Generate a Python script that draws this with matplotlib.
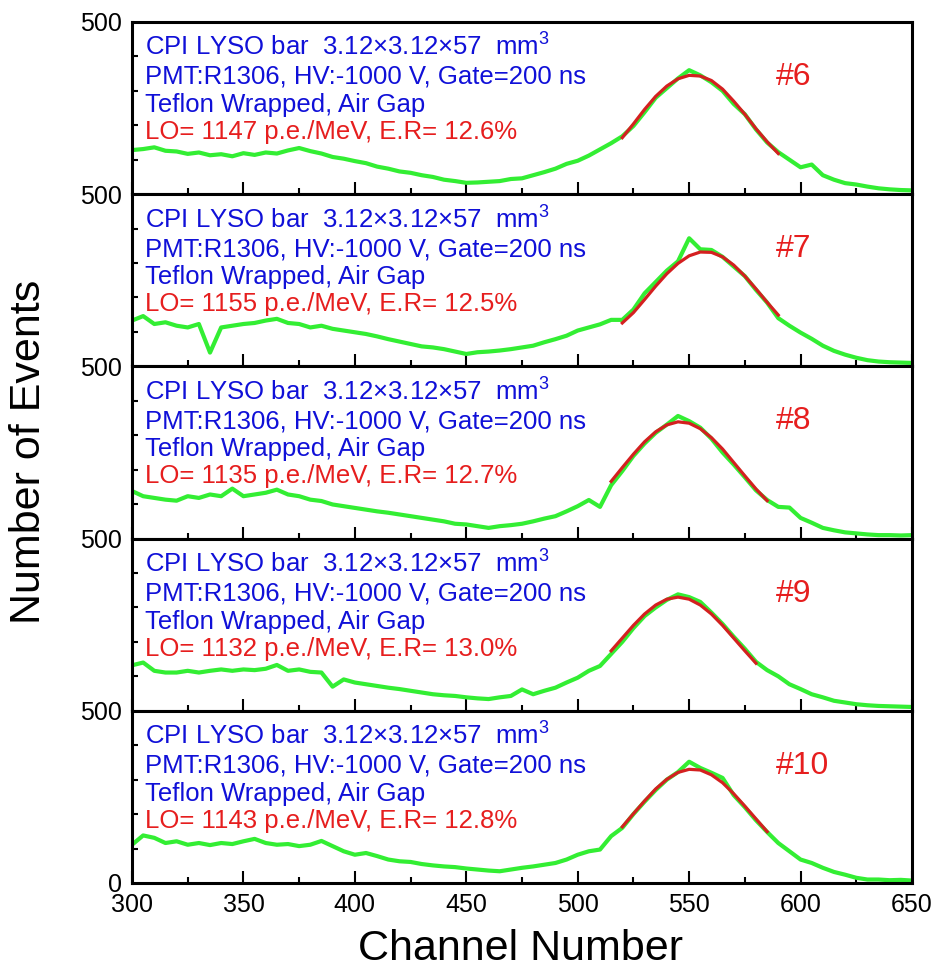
import numpy as np
import matplotlib.pyplot as plt
from matplotlib.ticker import MultipleLocator

# fonts: Arial-like, mathtext only for the mm^3 superscript
plt.rcParams['font.family'] = 'Liberation Sans'
plt.rcParams['mathtext.fontset'] = 'custom'
plt.rcParams['mathtext.rm'] = 'Liberation Sans'
plt.rcParams['mathtext.it'] = 'Liberation Sans:italic'
plt.rcParams['mathtext.bf'] = 'Liberation Sans:bold'

# channel grid of the spectra (read every 5 channels)
channels = np.arange(300, 651, 5)

counts_6 = [128, 131, 136, 126, 124, 117, 121, 113, 116, 110,
            119, 114, 121, 118, 127, 134, 125, 118, 108, 103,
            96, 90, 80, 74, 66, 62, 55, 50, 42, 38,
            33, 34, 36, 38, 44, 46, 55, 64, 74, 88,
            97, 112, 130, 148, 168, 198, 238, 280, 308, 336,
            360, 345, 325, 300, 262, 232, 188, 150, 122, 100,
            78, 86, 55, 42, 32, 28, 22, 17, 14, 12,
            11]
counts_7 = [133, 146, 123, 128, 118, 113, 123, 40, 113, 118,
            123, 126, 133, 138, 126, 123, 113, 118, 109, 104,
            99, 94, 87, 79, 72, 65, 58, 55, 50, 43,
            36, 41, 43, 46, 50, 55, 60, 70, 79, 89,
            104, 113, 122, 135, 135, 165, 212, 245, 278, 305,
            372, 340, 338, 318, 290, 262, 222, 185, 140, 118,
            98, 80, 60, 45, 34, 25, 18, 14, 12, 11,
            10]
counts_8 = [138, 123, 118, 113, 110, 123, 118, 128, 123, 145,
            123, 128, 133, 142, 128, 123, 113, 109, 99, 94,
            89, 84, 79, 75, 70, 65, 60, 55, 50, 43,
            41, 36, 31, 36, 39, 43, 50, 58, 65, 79,
            94, 112, 92, 155, 196, 240, 276, 307, 331, 356,
            341, 322, 290, 250, 215, 178, 140, 112, 92, 90,
            60, 46, 31, 24, 18, 15, 12, 10, 10, 9,
            10]
counts_9 = [132, 140, 116, 111, 111, 116, 111, 116, 120, 116,
            120, 118, 122, 133, 116, 120, 113, 111, 70, 91,
            82, 77, 72, 67, 63, 58, 53, 48, 45, 43,
            39, 36, 34, 39, 43, 62, 48, 58, 67, 82,
            96, 116, 130, 165, 200, 240, 275, 300, 322, 338,
            330, 316, 285, 252, 215, 180, 142, 118, 100, 77,
            63, 48, 39, 29, 24, 19, 16, 14, 13, 12,
            11]
counts_10 = [111, 138, 131, 116, 121, 111, 116, 110, 116, 113,
             121, 128, 116, 111, 113, 107, 111, 122, 107, 92,
             82, 87, 78, 68, 63, 61, 55, 51, 48, 46,
             42, 39, 36, 34, 39, 44, 48, 53, 58, 68,
             82, 92, 97, 136, 160, 200, 236, 270, 300, 322,
             352, 334, 320, 305, 255, 220, 182, 148, 116, 92,
             68, 58, 44, 32, 24, 15, 10, 10, 8, 9,
             7]

# gaussian fits over the photo-peak
fit_ch_6 = np.arange(520, 591, 5)
fit_6 = [164, 204, 246, 284, 314, 335, 345, 343, 330, 305, 270, 232, 190, 152, 118]
fit_ch_7 = np.arange(520, 591, 5)
fit_7 = [126, 156, 194, 233, 269, 299, 321, 332, 331, 318, 294, 262, 225, 186, 149]
fit_ch_8 = np.arange(515, 586, 5)
fit_8 = [166, 206, 245, 281, 310, 330, 339, 335, 319, 293, 260, 221, 182, 144, 110]
fit_ch_9 = np.arange(515, 581, 5)
fit_9 = [174, 211, 248, 281, 307, 324, 330, 324, 307, 281, 248, 211, 174, 138]
fit_ch_10 = np.arange(520, 586, 5)
fit_10 = [163, 201, 238, 273, 301, 321, 330, 328, 314, 291, 259, 223, 186, 149]

samples = ['#6', '#7', '#8', '#9', '#10']
light_output = ['1147', '1155', '1135', '1132', '1143']
resolution = ['12.6', '12.5', '12.7', '13.0', '12.8']

spectra = [counts_6, counts_7, counts_8, counts_9, counts_10]
fit_channels = [fit_ch_6, fit_ch_7, fit_ch_8, fit_ch_9, fit_ch_10]
fits = [fit_6, fit_7, fit_8, fit_9, fit_10]

green = '#33EE33'
fit_red = '#D42020'
txt_red = '#E61E1E'
blue = '#1010D8'

fig, axes = plt.subplots(5, 1, sharex=True, figsize=(9.37, 9.72), dpi=100)
fig.subplots_adjust(left=0.1409, right=0.9733, top=0.9774, bottom=0.0916, hspace=0)

for i, ax in enumerate(axes):
    ax.plot(channels, spectra[i], color=green, lw=3.0, solid_joinstyle='round', zorder=2)
    ax.plot(fit_channels[i], fits[i], color=fit_red, lw=2.3, zorder=3)

    ax.set_xlim(300, 650)
    ax.set_ylim(0, 500)
    ax.set_yticks([0, 500])
    ax.yaxis.set_minor_locator(MultipleLocator(100))
    ax.xaxis.set_major_locator(MultipleLocator(50))
    ax.xaxis.set_minor_locator(MultipleLocator(25))
    ax.tick_params(axis='x', which='major', direction='in', length=9, width=1.5,
                   top=False, labelsize=18, pad=7)
    ax.tick_params(axis='x', which='minor', direction='in', length=4.5, width=1.5, top=False)
    ax.tick_params(axis='y', which='major', direction='in', length=0, labelsize=18, pad=7)
    ax.tick_params(axis='y', which='minor', direction='in', length=4.5, width=1.5, right=False)
    if i < 4:
        ax.set_yticklabels(['', '500'])
    else:
        ax.set_yticklabels(['0', '500'])
    for sp in ax.spines.values():
        sp.set_linewidth(2.2)

    ax.text(0.0167, 0.802, 'CPI LYSO bar  3.12×3.12×57  mm$^{3}$', transform=ax.transAxes,
            color=blue, fontsize=18.5, va='baseline')
    ax.text(0.0167, 0.640, 'PMT:R1306, HV:-1000 V, Gate=200 ns', transform=ax.transAxes,
            color=blue, fontsize=18.5, va='baseline')
    ax.text(0.0167, 0.477, 'Teflon Wrapped, Air Gap', transform=ax.transAxes,
            color=blue, fontsize=18.5, va='baseline')
    ax.text(0.0167, 0.320, 'LO= ' + light_output[i] + ' p.e./MeV, E.R= ' + resolution[i] + '%',
            transform=ax.transAxes, color=txt_red, fontsize=18.5, va='baseline')
    ax.text(0.826, 0.634, samples[i], transform=ax.transAxes, color=txt_red,
            fontsize=23, va='baseline')

fig.text(0.556, 0.012, 'Channel Number', ha='center', va='baseline', fontsize=31)
fig.text(0.031, 0.535, 'Number of Events', rotation=90, ha='center', va='center', fontsize=31)

fig.savefig('out.png', dpi=100)
